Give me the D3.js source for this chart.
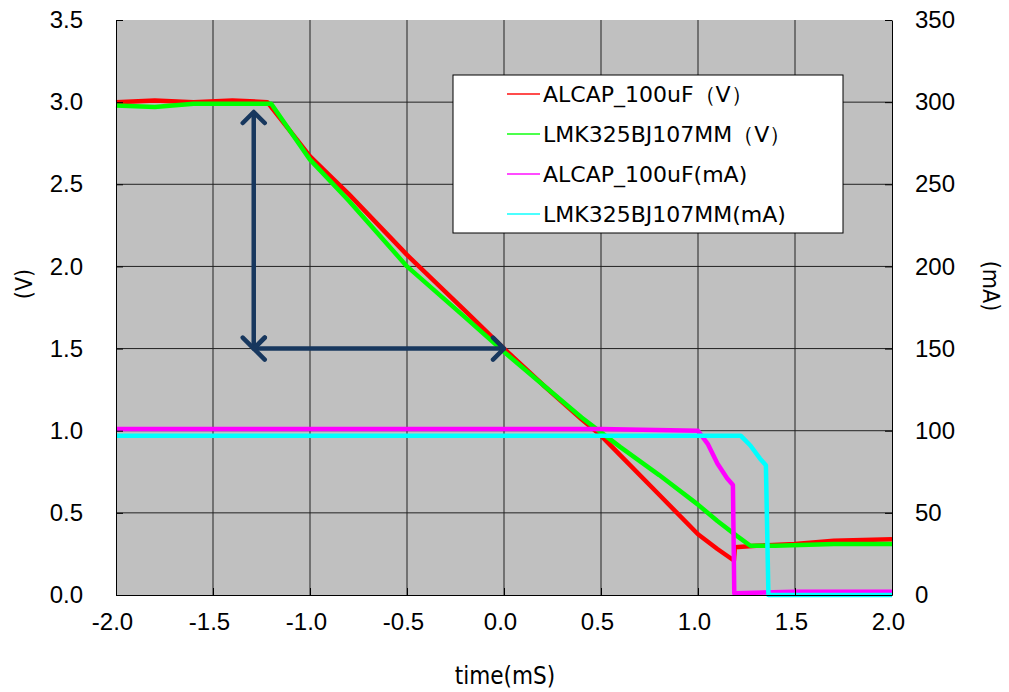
<!DOCTYPE html>
<html>
<head>
<meta charset="utf-8">
<script src="https://cdn.jsdelivr.net/npm/d3@7"></script>
<style>
  body { margin: 0; background: #fff; }
  svg { font-family: "DejaVu Sans Condensed", "DejaVu Sans", sans-serif; }
  .tick text { font-size: 24px; fill: #000; }
</style>
</head>
<body>
<svg width="1009" height="692"></svg>
<script>
// values
const xTicks = [-2.0, -1.5, -1.0, -0.5, 0.0, 0.5, 1.0, 1.5, 2.0];
const vTicks = [0.0, 0.5, 1.0, 1.5, 2.0, 2.5, 3.0, 3.5];
const mATicks = [0, 50, 100, 150, 200, 250, 300, 350];

const alcapVTime = [-2.0, -1.8, -1.6, -1.4, -1.22, -1.1, -1.0, -0.8, -0.5, -0.2, 0.0, 0.2, 0.4, 0.5, 0.6, 0.8, 1.0, 1.1, 1.185, 1.19, 1.3, 1.5, 1.7, 2.0];
const alcapV     = [3.0, 3.01, 3.0, 3.01, 3.0, 2.82, 2.67, 2.44, 2.07, 1.73, 1.50, 1.28, 1.07, 0.97, 0.85, 0.61, 0.37, 0.28, 0.21, 0.29, 0.30, 0.31, 0.33, 0.34];

const lmkVTime = [-2.0, -1.8, -1.6, -1.4, -1.2, -1.1, -1.0, -0.8, -0.5, -0.2, 0.0, 0.2, 0.4, 0.5, 0.6, 0.8, 1.0, 1.1, 1.2, 1.27, 1.4, 1.7, 2.0];
const lmkV     = [2.98, 2.97, 2.99, 2.99, 2.99, 2.82, 2.65, 2.40, 2.00, 1.69, 1.48, 1.28, 1.08, 0.99, 0.90, 0.73, 0.55, 0.45, 0.36, 0.30, 0.30, 0.31, 0.31];

const alcapMATime = [-2.0, -1.5, -1.0, -0.5, 0.0, 0.5, 1.0, 1.05, 1.1, 1.15, 1.18, 1.187, 1.5, 2.0];
const alcapMA     = [101, 101, 101, 101, 101, 101, 100, 92, 80, 71, 67, 1, 2, 2];

const lmkMATime = [-2.0, -1.5, -1.0, -0.5, 0.0, 0.5, 1.0, 1.22, 1.27, 1.32, 1.35, 1.363, 1.5, 2.0];
const lmkMA     = [97, 97, 97, 97, 97, 97, 97, 97, 91, 83, 79, 0, 0, 0];

// arrows on the chart: [t1, v1, t2, v2]
const arrows = [[-1.29, 2.94, -1.29, 1.5], [-1.29, 1.5, 0.0, 1.5]];

const legendNames = ["ALCAP_100uF（V）", "LMK325BJ107MM（V）", "ALCAP_100uF(mA)", "LMK325BJ107MM(mA)"];
const colors = ["#ff0000", "#00ff00", "#ff00ff", "#00ffff"];

const margin = { top: 20, right: 117, bottom: 97, left: 116 },
      width = 1009 - margin.left - margin.right,
      height = 692 - margin.top - margin.bottom;

const svg = d3.select("svg");
const g = svg.append("g")
    .attr("transform", `translate(${margin.left},${margin.top})`);

const x = d3.scaleLinear().domain([-2, 2]).range([0, width]);
const yV = d3.scaleLinear().domain([0, 3.5]).range([height, 0]);
const yA = d3.scaleLinear().domain([0, 350]).range([height, 0]);

g.append("rect")
    .attr("width", width)
    .attr("height", height)
    .attr("fill", "#c0c0c0");

// grid
g.append("g")
    .selectAll("line")
    .data(xTicks.slice(1, -1))
    .enter().append("line")
    .attr("x1", d => x(d)).attr("x2", d => x(d))
    .attr("y1", 0).attr("y2", height)
    .attr("stroke", "#222").attr("stroke-width", 1);

g.append("g")
    .selectAll("line")
    .data(vTicks.slice(1, -1))
    .enter().append("line")
    .attr("x1", 0).attr("x2", width)
    .attr("y1", d => yV(d)).attr("y2", d => yV(d))
    .attr("stroke", "#222").attr("stroke-width", 1);

// series
const series = [
    { t: alcapVTime, v: alcapV, y: yV },
    { t: lmkVTime, v: lmkV, y: yV },
    { t: alcapMATime, v: alcapMA, y: yA },
    { t: lmkMATime, v: lmkMA, y: yA }
];

series.forEach((s, i) => {
    const line = d3.line()
        .x((d, j) => x(s.t[j]))
        .y(d => s.y(d));
    g.append("path")
        .datum(s.v)
        .attr("d", line)
        .attr("fill", "none")
        .attr("stroke", colors[i])
        .attr("stroke-width", 4.5)
        .attr("stroke-linejoin", "round");
});

// arrowheads
const defs = svg.append("defs");
defs.append("marker")
    .attr("id", "chev")
    .attr("viewBox", "-14 -14 28 28")
    .attr("markerWidth", 28).attr("markerHeight", 28)
    .attr("markerUnits", "userSpaceOnUse")
    .attr("orient", "auto-start-reverse")
    .append("path")
    .attr("d", "M-11,-11 L0,0 L-11,11")
    .attr("fill", "none")
    .attr("stroke", "#17375e")
    .attr("stroke-width", 4.5)
    .attr("stroke-linecap", "round")
    .attr("stroke-linejoin", "round");

g.append("g")
    .selectAll("line")
    .data(arrows)
    .enter().append("line")
    .attr("x1", d => x(d[0])).attr("y1", d => yV(d[1]))
    .attr("x2", d => x(d[2])).attr("y2", d => yV(d[3]))
    .attr("stroke", "#17375e")
    .attr("stroke-width", 4.5)
    .attr("marker-start", "url(#chev)")
    .attr("marker-end", "url(#chev)");

// axes
const fmt = d => d.toFixed(1);

const xAxis = g.append("g")
    .attr("transform", `translate(0,${height})`)
    .call(d3.axisBottom(x).tickValues(xTicks).tickFormat(fmt).tickSizeInner(-7).tickSizeOuter(0).tickPadding(18));
xAxis.selectAll("text").attr("dx", "-4");

const yAxisL = g.append("g")
    .call(d3.axisLeft(yV).tickValues(vTicks).tickFormat(fmt).tickSizeInner(-7).tickSizeOuter(0).tickPadding(33));

const yAxisR = g.append("g")
    .attr("transform", `translate(${width},0)`)
    .call(d3.axisRight(yA).tickValues(mATicks).tickFormat(d3.format("d")).tickSizeInner(-7).tickSizeOuter(0).tickPadding(23));

[xAxis, yAxisL, yAxisR].forEach(a => {
    a.select(".domain").attr("stroke", "#000");
    a.selectAll(".tick line").attr("stroke", "#000");
});
yAxisR.selectAll(".tick text").attr("text-anchor", "start");

// axis titles
svg.append("text")
    .attr("x", 505).attr("y", 684)
    .attr("text-anchor", "middle")
    .attr("font-size", 24)
    .text("time(mS)");

svg.append("text")
    .attr("transform", "translate(32,284) rotate(-90)")
    .attr("text-anchor", "middle")
    .attr("font-size", 23)
    .text("(V)");

svg.append("text")
    .attr("transform", "translate(983,286) rotate(90)")
    .attr("text-anchor", "middle")
    .attr("font-size", 23)
    .text("(mA)");

// legend
const legend = svg.append("g").attr("transform", "translate(453,75)");
legend.append("rect")
    .attr("width", 390).attr("height", 158)
    .attr("fill", "#fff")
    .attr("stroke", "#000")
    .attr("stroke-width", 1);

legendNames.forEach((name, i) => {
    const row = legend.append("g").attr("transform", `translate(0,${19 + i * 40})`);
    row.append("line")
        .attr("x1", 54).attr("x2", 87)
        .attr("stroke", colors[i])
        .attr("stroke-opacity", 0.7)
        .attr("stroke-width", 2);
    row.append("text")
        .attr("x", 90)
        .attr("dy", "0.35em")
        .attr("font-family", "'DejaVu Sans', sans-serif")
        .attr("font-size", 22)
        .text(name);
});
</script>
</body>
</html>
